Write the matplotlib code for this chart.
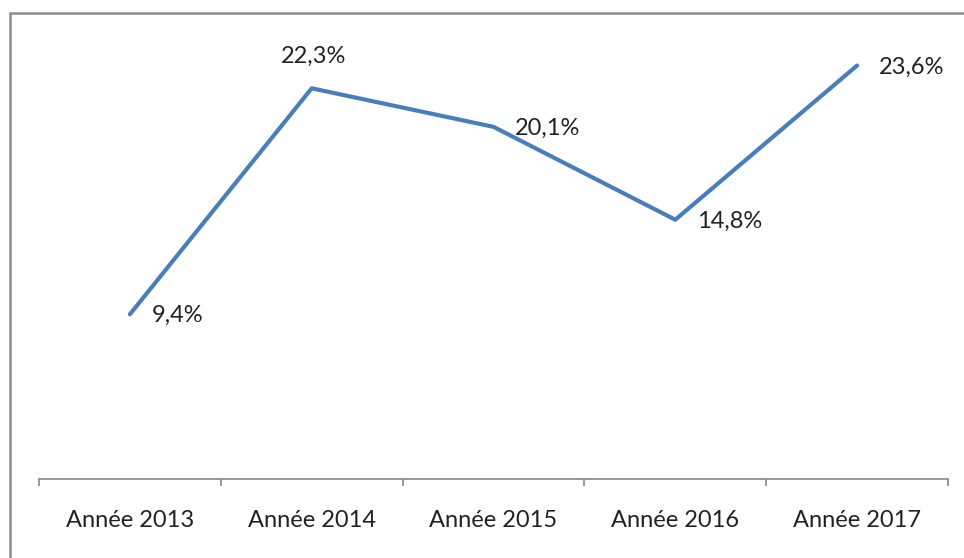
import matplotlib.pyplot as plt
from matplotlib.patches import Rectangle

years = ['Année 2013', 'Année 2014', 'Année 2015', 'Année 2016', 'Année 2017']
rates = [9.4, 22.3, 20.1, 14.8, 23.6]
labels = ['9,4%', '22,3%', '20,1%', '14,8%', '23,6%']

plt.rcParams['font.family'] = ['Lato', 'DejaVu Sans']

W, H = 964, 558
fig = plt.figure(figsize=(W / 100, H / 100), dpi=100)

# outer chart border (only top and left show in the crop)
fig.patches.append(Rectangle((10 / W, -0.1), 1.2, 1 - 13 / H + 0.1,
                             transform=fig.transFigure, fill=False,
                             edgecolor='#8c8c8c', linewidth=1.8))

ax = fig.add_axes([39 / W, (H - 479) / H, 909 / W, 438 / H])
x = range(len(years))
ax.plot(x, rates, color='#4a7ebb', linewidth=3.0, solid_capstyle='round')
ax.set_xlim(-0.5, len(years) - 0.5)
ax.set_ylim(0, 25)

for s in ['top', 'right', 'left']:
    ax.spines[s].set_visible(False)
ax.spines['bottom'].set_color('#868686')
ax.spines['bottom'].set_linewidth(1.2)
ax.set_yticks([])

ax.set_xticks([i - 0.5 for i in range(len(years) + 1)])
ax.set_xticklabels([])
ax.tick_params(axis='x', length=5, color='#868686', width=1.2)
for i, name in enumerate(years):
    ax.text(i, -2.35, name, ha='center', va='center', fontsize=17, color='#222222')

for i, (v, lab) in enumerate(zip(rates, labels)):
    if i == 1:
        ax.annotate(lab, (i, v), xytext=(1, 23), textcoords='offset points',
                    ha='center', va='center', fontsize=17, color='#222222')
    else:
        ax.annotate(lab, (i, v), xytext=(15.5, -1), textcoords='offset points',
                    ha='left', va='center', fontsize=17, color='#222222')

fig.savefig('out.png', dpi=100)
